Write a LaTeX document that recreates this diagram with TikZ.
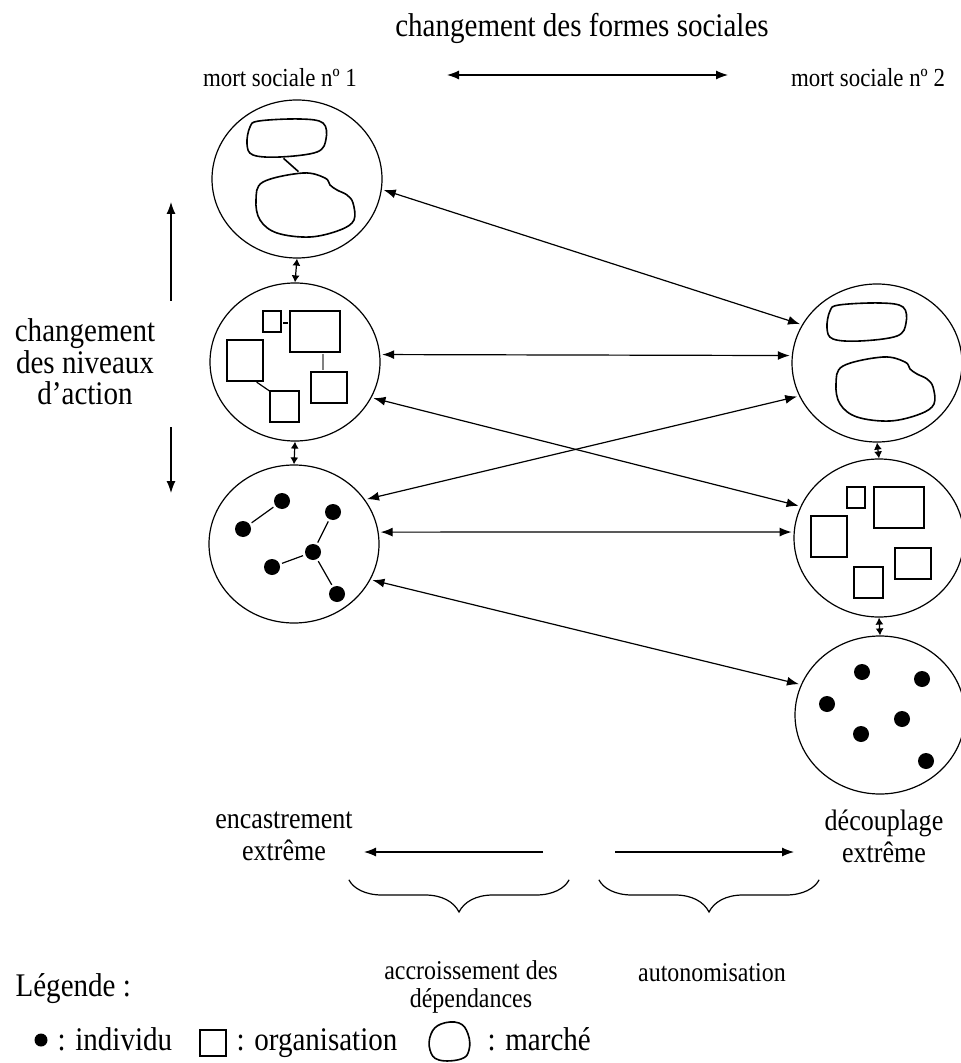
\documentclass[tikz,border=0pt]{standalone}
\usepackage{fontspec}
\setmainfont{Liberation Serif}[FakeStretch=0.88]
\usetikzlibrary{arrows.meta,shapes.geometric,decorations.pathreplacing}

\begin{document}
\begin{tikzpicture}[x=0.5pt, y=-0.5pt, line width=0.6pt, shorten >=1pt, shorten <=1pt,
  forme/.style={ellipse,draw,minimum width=85pt,minimum height=79pt,inner sep=0pt},
  org/.style={draw,line width=0.8pt},
  indiv/.style={circle,fill=black,minimum size=8pt,inner sep=0pt},
  fleche/.style={{Latex[length=6pt,width=4.5pt]}-{Latex[length=6pt,width=4.5pt]}},
  petitefleche/.style={{Latex[length=3.5pt,width=4pt]}-{Latex[length=3.5pt,width=4pt]}},
  grand/.style={font=\fontsize{16.5}{15.8}\selectfont, align=center},
  moyen/.style={font=\fontsize{14.8}{16}\selectfont, align=center},
  petit/.style={font=\fontsize{13}{14}\selectfont}]%
\useasboundingbox (0,0) rectangle (960,1063);
% les six formes sociales
\node[forme] (m1) at (297,179) {};
\node[forme] (o1) at (295,362) {};
\node[forme] (i1) at (294,544) {};
\node[forme] (m2) at (877,363) {};
\node[forme] (o2) at (879,538) {};
\node[forme] (i2) at (880,715) {};
% marches
\begin{scope}[line width=0.8pt]
\foreach \c in {m1,m2} {
\begin{scope}[shift={(\c)}]
\draw plot[smooth cycle, tension=0.6] coordinates {(-47,-52) (-38,-58) (3,-60) (26,-56) (29,-40) (20,-27) (-17,-22) (-44,-24) (-50,-35)};
\draw plot[smooth cycle, tension=0.6] coordinates {(-34,3) (6,-6) (28,-1) (33,6) (40,11) (50,16) (56,24) (57,41) (43,51) (13,58) (-20,54) (-37,41) (-41,21)};
\end{scope}
}
\draw[shift={(m1)}] (-15,-22) -- (3,-6);
\end{scope}
% organisations
\foreach \c in {o1,o2} {
\begin{scope}[shift={(\c)}]
\draw[org] (-32,-51) rectangle (-14,-30);
\draw[org] (-5,-51) rectangle (45,-10);
\draw[org] (-68,-22) rectangle (-32,19);
\draw[org] (-25,29) rectangle (4,60);
\draw[org] (16,10) rectangle (52,41);
\end{scope}
}
\begin{scope}[shift={(o1)}]
\draw (-14,-39) -- (-5,-39);
\draw[gray, line width=1pt] (28,-10) -- (28,10);
\draw (-40,19) -- (-24,30);
\end{scope}
% individus
\begin{scope}[shift={(i1)}]
\node[indiv] (a1) at (-12,-43) {};
\node[indiv] (a2) at (-51,-15) {};
\node[indiv] (a3) at (39,-32) {};
\node[indiv] (a4) at (19,8) {};
\node[indiv] (a5) at (-22,23) {};
\node[indiv] (a6) at (43,50) {};
\draw (a1) -- (a2);
\draw (a3) -- (a4);
\draw (a5) -- (a4);
\draw (a4) -- (a6);
\end{scope}
\begin{scope}[shift={(i2)}]
\node[indiv] (b1) at (-18,-43) {};
\node[indiv] (b2) at (42,-36) {};
\node[indiv] (b3) at (-53,-11) {};
\node[indiv] (b4) at (22,4) {};
\node[indiv] (b5) at (-19,19) {};
\node[indiv] (b6) at (46,46) {};
\end{scope}
% liaisons
\begin{scope}[every edge/.style={draw,fleche}]
\draw (m1.-7) edge (m2.153);
\draw (o1.5) edge (m2.175);
\draw (o1.-25) edge (o2.158);
\draw (i1.32) edge (m2.-157);
\draw (i1.8) edge (o2.176);
\draw (i1.-25) edge (i2.159);
\end{scope}
\begin{scope}[every edge/.style={draw,petitefleche,shorten >=0pt,shorten <=0pt}]
\draw (m1.south) edge (o1.north);
\draw (o1.south) edge (i1.north);
\draw (m2.south) edge (o2.north);
\draw (o2.south) edge (i2.north);
\end{scope}
% textes du haut
\node[grand] (titre) at (582,28) {changement des formes sociales};
\node[petit] (mort1) at (280,78) {mort sociale nº 1};
\node[petit] (mort2) at (868,78) {mort sociale nº 2};
\coordinate (g1) at (445,75);
\coordinate (d1) at (730,75);
\draw[fleche] (g1) -- (d1);
% niveaux d'action
\node[grand] (niveaux) at (85,362) {changement\\des niveaux\\d’action};
\coordinate (h1) at (171,303);
\coordinate (h2) at (171,200);
\coordinate (h3) at (171,425);
\coordinate (h4) at (171,495);
\draw[-{Latex[length=6pt,width=4.5pt]}] (h1) -- (h2);
\draw[-{Latex[length=6pt,width=4.5pt]}] (h3) -- (h4);
% bas
\node[moyen] (encas) at (284,836) {encastrement\\extrême};
\node[moyen] (decoup) at (884,836) {découplage\\extrême};
\coordinate (e1) at (545,852);
\coordinate (e2) at (362,852);
\coordinate (e3) at (613,852);
\coordinate (e4) at (796,852);
\draw[-{Latex[length=6pt,width=4.5pt]}] (e1) -- (e2);
\draw[-{Latex[length=6pt,width=4.5pt]}] (e3) -- (e4);
\coordinate (br1) at (348,878);
\coordinate (br2) at (570,878);
\coordinate (br3) at (598,878);
\coordinate (br4) at (820,878);
\draw[decorate, decoration={brace, mirror, amplitude=17pt}] (br1) -- (br2);
\draw[decorate, decoration={brace, mirror, amplitude=17pt}] (br3) -- (br4);
\node[font=\fontsize{13.6}{14}\selectfont, align=center] (accr) at (471,987) {accroissement des\\dépendances};
\node[font=\fontsize{13.6}{14}\selectfont] (auto) at (712,973) {autonomisation};
% legende
\begin{scope}[every node/.style={font=\fontsize{16.5}{17}\selectfont, inner sep=0pt}]
\node[anchor=base west] (leg) at (15,996) {Légende :};
\node[circle, fill=black, minimum size=6.5pt] (pt) at (41,1040) {};
\node[anchor=base west] (lindiv) at (57,1050) {: individu};
\node[draw, line width=0.7pt, minimum size=13pt] (carre) at (213,1043) {};
\node[anchor=base west] (lorg) at (236,1050) {: organisation};
\node[anchor=base west] (lmarche) at (487,1050) {: marché};
\end{scope}
\draw[line width=0.8pt, shift={(449,1042)}] plot[smooth cycle, tension=0.7] coordinates {(-18,-8) (-8,-18) (10,-19) (19,-8) (20,8) (12,17) (-10,18) (-19,8)};
\end{tikzpicture}
\end{document}
